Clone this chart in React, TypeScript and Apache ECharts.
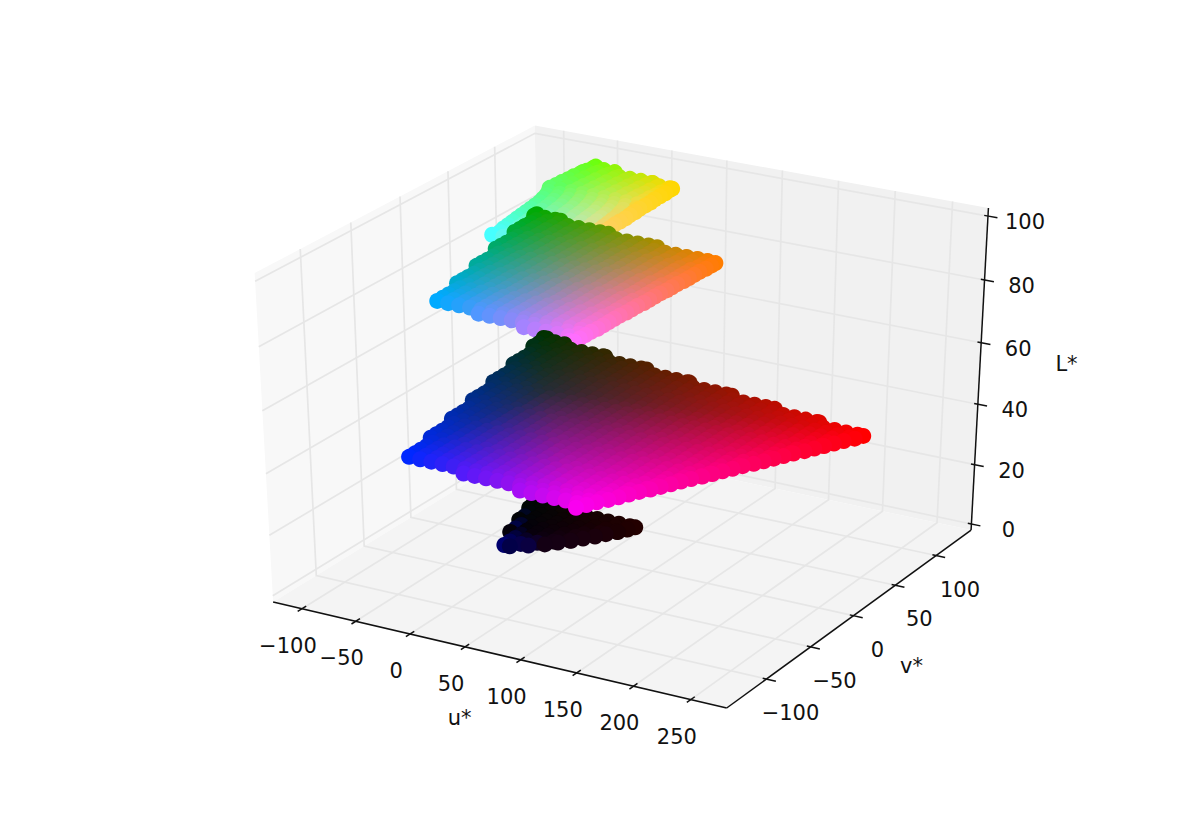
import React, { useEffect, useRef } from "react";
import * as echarts from "echarts";

// Tick values of the three axes
const uTicks = [-100, -50, 0, 50, 100, 150, 200, 250];
const vTicks = [-100, -50, 0, 50, 100];
const lTicks = [0, 20, 40, 60, 80, 100];

// Axis limits
const uLim = [-127, 281];
const vLim = [-144, 144];
const lLim = [-2.07, 102.5];

// Lightness of each slice
const layerL = [95, 75, 10, 48.5];

// Slices: rows of [v*, first u*, last u*]
const topRows = [
  [134, -62, -62], [131, -62, -42], [125, -63, -2], [122, -64, 18], [119, -64, 18], [113, -65, 19], [107, -65, 19],
  [101, -66, 19], [95, -66, 20], [89, -67, 20], [83, -63, 20], [77, -60, 21], [71, -58, 21],
  [65, -56, 22], [59, -55, 22], [53, -54, 22], [47, -53, 23], [41, -52, 23], [35, -51, 24],
  [29, -50, 24], [23, -49, 24], [17, -48, 25], [11, -46, 25], [5, -48, 25], [-1, -11, 26], [-7, 26, 26],
];
const upperRows = [
  [139, -122, -122], [136, -122, -97], [130, -115, -47], [124, -115, 3], [118, -115, 54], [117, -115, 62], [112, -115, 62],
  [106, -115, 62], [100, -107, 61], [94, -107, 61], [88, -107, 61], [82, -107, 61], [76, -107, 60],
  [70, -99, 60], [64, -99, 60], [58, -99, 59], [52, -99, 59], [46, -99, 59], [40, -91, 59],
  [34, -91, 58], [28, -91, 58], [22, -91, 58], [16, -91, 57], [10, -83, 57], [4, -83, 57],
  [-2, -83, 57], [-8, -83, 57], [-14, -83, 56], [-20, -40, 56], [-26, 6, 56], [-32, 52, 56],
];
const lowestRows = [
  [5, -15, 80], [0, -14, 77], [-6, -8, 73], [-12, -8, 67], [-18, -8, 62], [-24, -1, 56],
  [-30, -1, 50], [-36, -1, 43], [-42, 9, 36], [-48, 9, 26], [-54, 9, 14],
];
const middleRows = [
  [78, -62, -65], [75, -62, -43], [69, -62, 0], [63, -62, 43], [57, -55, 87], [51, -55, 130],
  [45, -55, 173], [39, -55, 217], [33, -55, 260], [27, -48, 257], [21, -48, 252], [15, -48, 248],
  [9, -48, 244], [3, -48, 240], [-3, -41, 236], [-9, -41, 231], [-15, -41, 227], [-21, -41, 223],
  [-27, -41, 219], [-33, -34, 215], [-39, -34, 210], [-45, -34, 206], [-51, -34, 202], [-57, -34, 198],
  [-63, -27, 194], [-69, -27, 189], [-75, -27, 185], [-81, -27, 181], [-87, -27, 177], [-93, -20, 173],
  [-99, -20, 168], [-105, -20, 164], [-111, -20, 160], [-117, -20, 156], [-123, 34, 151], [-129, 89, 147],
  [-135, 143, 143],
];

// Colours read at the slice corners and at its neutral point
const topAnchors = [[-48, 5], [-62, 134], [18, 122], [26, -7]];
const topColours = [[70, 255, 255], [110, 255, 10], [255, 215, 0], [255, 205, 150]];
const topNeutral = [5, 50, 205, 232, 150];
const upperAnchors = [[-83, -14], [-122, 139], [62, 117], [55, -32]];
const upperColours = [[0, 170, 255], [0, 170, 0], [255, 125, 0], [255, 110, 255]];
const upperNeutral = [-14, 51, 140, 140, 130];
const lowestAnchors = [[9, -54], [-15, 5], [80, 5], [39, -39]];
const lowestColours = [[0, 0, 110], [0, 8, 3], [35, 0, 0], [20, 0, 20]];
const lowestNeutral = [14, -38, 5, 0, 12];
const middleAnchors = [[-20, -117], [-65, 78], [260, 33], [143, -135]];
const middleColours = [[0, 40, 255], [0, 50, 0], [255, 0, 0], [250, 0, 240]];
const middleNeutral = [0, 0, 35, 45, 55];

// Camera of the 3D box: elevation 30, azimuth -60, distance 10
const camX = [0.866, 0.5, 0];
const camY = [-0.25, 0.433, 0.866];
const camN = [0.433, -0.75, 0.5];
const DIST = 10;

const PX_X = 5236;
const PX_Y = 3756;
const CX = 627.5;
const CY = 406.8;
const W = 1200;
const H = 833;

const dot = (a: number[], b: number[]) => a[0] * b[0] + a[1] * b[1] + a[2] * b[2];

function projectBox(tx: number, ty: number, tz: number): number[] {
  const p = [tx - 0.5, ty - 0.5, tz - 0.5];
  const d = DIST - dot(camN, p);
  return [dot(camX, p) / d, dot(camY, p) / d];
}
const tU = (u: number) => (u - uLim[0]) / (uLim[1] - uLim[0]);
const tV = (v: number) => (v - vLim[0]) / (vLim[1] - vLim[0]);
const tL = (l: number) => (l - lLim[0]) / (lLim[1] - lLim[0]);

function fanColour(u: number, v: number, anchors: number[][], colours: number[][], neutral: number[]) {
  let best = -Infinity;
  let res = [0, 0, 0];
  const [cu, cv] = neutral;
  const cc = neutral.slice(2);
  for (let i = 0; i < anchors.length; i++) {
    const a = anchors[i];
    const j = (i + 1) % anchors.length;
    const b = anchors[j];
    const det = (a[0] - cu) * (b[1] - cv) - (b[0] - cu) * (a[1] - cv);
    const wa = ((u - cu) * (b[1] - cv) - (b[0] - cu) * (v - cv)) / det;
    const wb = ((a[0] - cu) * (v - cv) - (u - cu) * (a[1] - cv)) / det;
    const wc = 1 - wa - wb;
    const m = Math.min(wa, wb, wc);
    if (m > best) {
      best = m;
      const x = Math.max(wa, 0);
      const y = Math.max(wb, 0);
      const z = Math.max(wc, 0);
      const s = x + y + z;
      res = [0, 1, 2].map((k) => (x * colours[i][k] + y * colours[j][k] + z * cc[k]) / s);
    }
  }
  return `rgb(${Math.round(res[0])},${Math.round(res[1])},${Math.round(res[2])})`;
}

function layerData(rows: number[][], L: number, anchors: number[][], colours: number[][], neutral: number[]) {
  const out: any[] = [];
  for (const [v, a, b] of rows) {
    const lo = Math.min(a, b);
    const hi = Math.max(a, b);
    const us: number[] = [];
    for (let u = lo; u < hi; u += 10) us.push(u);
    us.push(hi);
    for (const u of us) {
      out.push({
        value: projectBox(tU(u), tV(v), tL(L)),
        itemStyle: { color: fanColour(u, v, anchors, colours, neutral), opacity: 1 },
      });
    }
  }
  return out;
}

const panes = [
  { pts: [[0, 0, 0], [0, 1, 0], [0, 1, 1], [0, 0, 1]], fill: "#f8f8f8" },
  { pts: [[0, 1, 0], [1, 1, 0], [1, 1, 1], [0, 1, 1]], fill: "#f1f1f1" },
  { pts: [[0, 0, 0], [1, 0, 0], [1, 1, 0], [0, 1, 0]], fill: "#f4f4f4" },
];

function buildGrid(): number[][][] {
  const g: number[][][] = [];
  for (const u of uTicks) {
    const t = tU(u);
    g.push([[t, 0, 0], [t, 1, 0], [t, 1, 1]]);
  }
  for (const v of vTicks) {
    const t = tV(v);
    g.push([[1, t, 0], [0, t, 0], [0, t, 1]]);
  }
  for (const l of lTicks) {
    const t = tL(l);
    g.push([[1, 1, t], [0, 1, t], [0, 0, t]]);
  }
  return g;
}

function buildAxes(): number[][][] {
  const a: number[][][] = [
    [[0, 0, 0], [1, 0, 0]],
    [[1, 0, 0], [1, 1, 0]],
    [[1, 1, 0], [1, 1, 1]],
  ];
  for (const u of uTicks) a.push([[tU(u), -0.015, 0], [tU(u), 0.015, 0]]);
  for (const v of vTicks) a.push([[0.992, tV(v), 0], [1.02, tV(v), 0]]);
  for (const l of lTicks) a.push([[0.992, 1, tL(l)], [1.02, 1, tL(l)]]);
  return a;
}

const fmt = (n: number) => String(n).replace("-", "\u2212");

function buildLabels() {
  const t: { text: string; at: number[]; dx: number; dy: number }[] = [];
  for (const u of uTicks) t.push({ text: fmt(u), at: [tU(u), 0, 0], dx: -14, dy: 37 });
  for (const v of vTicks) t.push({ text: fmt(v), at: [1, tV(v), 0], dx: 24, dy: 34 });
  for (const l of lTicks) t.push({ text: fmt(l), at: [1, 1, tL(l)], dx: 37, dy: 6 });
  t.push({ text: "u*", at: [tU(125), 0, 0], dx: -89, dy: 52 });
  t.push({ text: "v*", at: [1, tV(25), 0], dx: 37, dy: 66 });
  t.push({ text: "L*", at: [1, 1, tL(50)], dx: 87, dy: -10 });
  return t;
}

const FONT = '"DejaVu Sans", sans-serif';

export default function App() {
  const ref = useRef<HTMLDivElement>(null);
  useEffect(() => {
    document.body.style.margin = "0";
    document.body.style.background = "#fff";
    const chart = echarts.init(ref.current!, undefined, { renderer: "svg", width: W, height: H });
    const gridLines = buildGrid();
    const axisLines = buildAxes();
    const labels = buildLabels();
    const indexData = (a: any[]) => a.map((_, i) => [i, 0]);
    const toPts = (api: any, pts: number[][]) =>
      pts.map((p) => api.coord(projectBox(p[0], p[1], p[2])));

    const scatterBase = {
      type: "scatter",
      symbol: "circle",
      symbolSize: 16,
      silent: true,
      clip: false,
      large: false,
      itemStyle: { opacity: 1 },
    };

    const option: any = {
      animation: false,
      backgroundColor: "#ffffff",
      grid: { left: 0, right: 0, top: 0, bottom: 0 },
      xAxis: { type: "value", min: -CX / PX_X, max: (W - CX) / PX_X, show: false },
      yAxis: { type: "value", min: (CY - H) / PX_Y, max: CY / PX_Y, show: false },
      series: [
        {
          type: "custom",
          silent: true,
          clip: false,
          data: indexData(panes),
          renderItem: (_: any, api: any) => {
            const pane = panes[api.value(0)];
            return {
              type: "polygon",
              shape: { points: toPts(api, pane.pts) },
              style: { fill: pane.fill, stroke: "none" },
            };
          },
        },
        {
          type: "custom",
          silent: true,
          clip: false,
          data: indexData(gridLines),
          renderItem: (_: any, api: any) => ({
            type: "polyline",
            shape: { points: toPts(api, gridLines[api.value(0)]) },
            style: { fill: "none", stroke: "#e6e6e6", lineWidth: 1.7 },
          }),
        },
        {
          type: "custom",
          silent: true,
          clip: false,
          data: indexData(axisLines),
          renderItem: (_: any, api: any) => ({
            type: "polyline",
            shape: { points: toPts(api, axisLines[api.value(0)]) },
            style: { fill: "none", stroke: "#111111", lineWidth: 1.5 },
          }),
        },
        { ...scatterBase, name: "L95", data: layerData(topRows, layerL[0], topAnchors, topColours, topNeutral) },
        { ...scatterBase, name: "L75", data: layerData(upperRows, layerL[1], upperAnchors, upperColours, upperNeutral) },
        { ...scatterBase, name: "L10", data: layerData(lowestRows, layerL[2], lowestAnchors, lowestColours, lowestNeutral) },
        { ...scatterBase, name: "L48.5", data: layerData(middleRows, layerL[3], middleAnchors, middleColours, middleNeutral) },
        {
          type: "custom",
          silent: true,
          clip: false,
          data: indexData(labels),
          renderItem: (_: any, api: any) => {
            const l = labels[api.value(0)];
            const p = api.coord(projectBox(l.at[0], l.at[1], l.at[2]));
            return {
              type: "text",
              x: p[0] + l.dx,
              y: p[1] + l.dy,
              style: {
                text: l.text,
                fontFamily: FONT,
                fontSize: 21,
                fill: "#111111",
                align: "center",
                verticalAlign: "middle",
              },
            };
          },
        },
      ],
    };
    chart.setOption(option);
    return () => chart.dispose();
  }, []);
  return <div ref={ref} style={{ width: W, height: H }} />;
}
